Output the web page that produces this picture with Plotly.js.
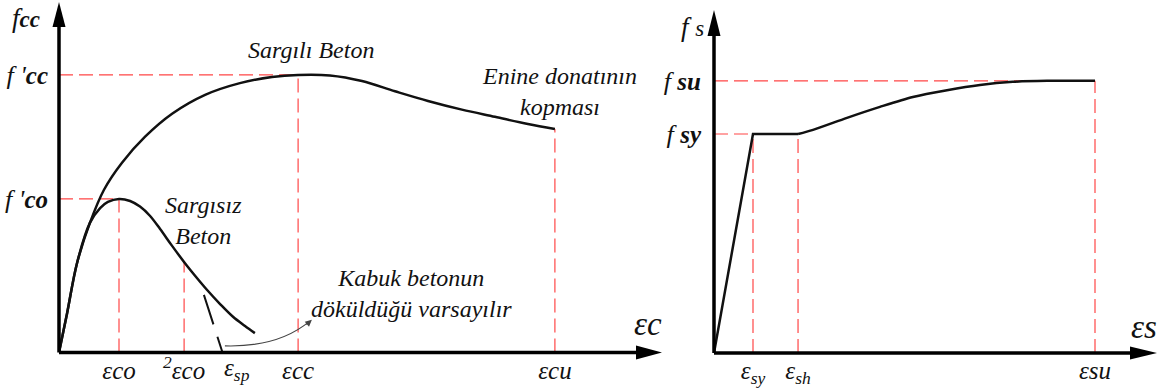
<!DOCTYPE html>
<html>
<head>
<meta charset="utf-8">
<script src="https://cdn.plot.ly/plotly-3.0.1.min.js"></script>
<style>
  body { margin: 0; background: #fff; }
  #grafik { width: 1161px; height: 391px; }
</style>
</head>
<body>
<div id="grafik"></div>
<script>
// beton (sol): birim deformasyon (‰) ve gerilme (MPa)
var sargiliX = [0, 0.27, 0.6, 1.03, 1.5, 2.1, 2.87, 3.77, 4.87, 6.03, 7.1, 7.97, 9.03, 10.1, 11.2, 12.3, 13.43, 14.53, 15.63, 16.53];
var sargiliY = [0, 7.7, 17.5, 25.4, 31.9, 37.2, 42.3, 46.8, 50.5, 52.8, 54.0, 54.4, 54.3, 53.2, 51.2, 49.3, 47.6, 46.2, 44.8, 43.8];
var sargisizX = [0, 0.27, 0.6, 1.03, 1.37, 1.63, 2.0, 2.37, 2.7, 3.03, 3.37, 3.77, 4.2, 4.57, 4.93, 5.37, 5.8, 6.2, 6.53];
var sargisizY = [0, 7.7, 17.5, 25.4, 28.3, 29.5, 30.1, 29.7, 28.6, 26.8, 24.2, 20.9, 17.5, 14.8, 12.3, 9.5, 7.0, 5.2, 3.8];
var kabukX = [4.83, 5.45];
var kabukY = [11.3, 0];

var eco = 2.0, e2co = 4.17, esp = 5.45, ecc = 7.97, ecu = 16.53;
var fco = 30.1, fcc = 54.4, f2co = 17.8, fcu = 43.8;
var betonTickVals = [eco, e2co, ecc, ecu];
var betonTickText = ["εco", "<sup>2</sup>εco", "εcc", "εcu"];
var spEtiket = "ε<sub>sp</sub>";
var betonYVals = [fco, fcc];
var betonYText = ["<span style='font-size:26px'>f '</span><b>co</b>", "<span style='font-size:26px'>f '</span><b>cc</b>"];

// celik (sag)
var celikElastikX = [0, 2.0, 4.31];
var celikElastikY = [0, 420, 420];
var celikPekX = [4.31, 5.08, 6.82, 8.51, 10.2, 11.95, 13.64, 15.33, 17.08, 19.54];
var celikPekY = [420, 428, 451, 472, 491, 504, 514, 520, 522, 522];
var esy = 2.0, esh = 4.31, esu = 19.54;
var fsy = 420, fsu = 522;
var celikTickVals = [esy, esh, esu];
var celikTickText = ["ε<sub>sy</sub>", "ε<sub>sh</sub>", "εsu"];
var celikYVals = [fsy, fsu];
var celikYText = ["<span style='font-size:26px'>f </span><b>sy</b>", "<span style='font-size:26px'>f </span><b>su</b>"];

var W = 1161, H = 391;
function px(x) { return x / W; }
function py(y) { return 1 - y / H; }

var kirmizi = "rgb(255,70,70)";
var kesik = "14px,6px";
var siyah = "#111";

function yazi(boyut) {
  return { family: "Liberation Serif", size: boyut, color: siyah, style: "italic" };
}

function kirmiziCizgi(xs, ys, xa, ya) {
  return {
    type: "scatter", mode: "lines", x: xs, y: ys, xaxis: xa, yaxis: ya,
    line: { color: kirmizi, width: 1.2, dash: kesik }, hoverinfo: "skip"
  };
}

var data = [
  kirmiziCizgi([0, ecc], [fcc, fcc], "x", "y"),
  kirmiziCizgi([0, eco], [fco, fco], "x", "y"),
  kirmiziCizgi([eco, eco], [0, fco], "x", "y"),
  kirmiziCizgi([e2co, e2co], [0, f2co], "x", "y"),
  kirmiziCizgi([ecc, ecc], [0, fcc], "x", "y"),
  kirmiziCizgi([ecu, ecu], [0, fcu], "x", "y"),
  kirmiziCizgi([0, esu], [fsu, fsu], "x2", "y2"),
  kirmiziCizgi([0, esy], [fsy, fsy], "x2", "y2"),
  kirmiziCizgi([esy, esy], [0, fsy], "x2", "y2"),
  kirmiziCizgi([esh, esh], [0, fsy], "x2", "y2"),
  kirmiziCizgi([esu, esu], [0, fsu], "x2", "y2"),
  {
    type: "scatter", mode: "lines", x: sargiliX, y: sargiliY,
    line: { color: siyah, width: 2.5, shape: "spline", smoothing: 1 }, hoverinfo: "skip"
  },
  {
    type: "scatter", mode: "lines", x: sargisizX, y: sargisizY,
    line: { color: siyah, width: 2.5, shape: "spline", smoothing: 1 }, hoverinfo: "skip"
  },
  {
    type: "scatter", mode: "lines", x: kabukX, y: kabukY,
    line: { color: siyah, width: 2, dash: "31px,13px,20px" }, hoverinfo: "skip"
  },
  {
    type: "scatter", mode: "lines", x: celikElastikX, y: celikElastikY, xaxis: "x2", yaxis: "y2",
    line: { color: siyah, width: 2.5 }, hoverinfo: "skip"
  },
  {
    type: "scatter", mode: "lines", x: celikPekX, y: celikPekY, xaxis: "x2", yaxis: "y2",
    line: { color: siyah, width: 2.5, shape: "spline", smoothing: 0.8 }, hoverinfo: "skip"
  }
];

function eksen(ekstra) {
  var e = {
    showgrid: false, zeroline: false, showline: false, ticks: "",
    fixedrange: true, tickmode: "array", tickfont: yazi(25)
  };
  return Object.assign(e, ekstra);
}

function etiket(x, y, metin, boyut) {
  return { xref: "paper", yref: "paper", x: px(x), y: py(y), text: metin, showarrow: false,
    xanchor: "center", yanchor: "middle", font: yazi(boyut) };
}

var layout = {
  width: W, height: H,
  margin: { l: 0, r: 0, t: 0, b: 0 },
  paper_bgcolor: "#fff", plot_bgcolor: "rgba(0,0,0,0)",
  showlegend: false,
  font: yazi(24),
  xaxis: eksen({
    domain: [px(59), px(662)], range: [0, 20.1],
    tickvals: betonTickVals, ticktext: betonTickText, ticklabelstandoff: 0
  }),
  yaxis: eksen({
    domain: [py(352.5), py(2)], range: [0, 68.7],
    tickvals: betonYVals, ticktext: betonYText, ticklabelstandoff: 10
  }),
  xaxis2: eksen({
    domain: [px(714), px(1157)], range: [0, 22.72], anchor: "y2",
    tickvals: celikTickVals, ticktext: celikTickText, ticklabelstandoff: 0
  }),
  yaxis2: eksen({
    domain: [py(353), py(10)], range: [0, 657.8], anchor: "x2",
    tickvals: celikYVals, ticktext: celikYText, ticklabelstandoff: 12
  }),
  shapes: [
    // eksen cizgileri ve ok uclari
    { type: "line", xref: "paper", yref: "paper", x0: px(59), y0: py(352.5), x1: px(59), y1: py(24), line: { color: "#000", width: 3.5 }, layer: "above" },
    { type: "line", xref: "paper", yref: "paper", x0: px(59), y0: py(352.5), x1: px(640), y1: py(352.5), line: { color: "#000", width: 3.5 }, layer: "above" },
    { type: "path", xref: "paper", yref: "paper", path: "M" + px(52.5) + "," + py(27) + " L" + px(59) + "," + py(2) + " L" + px(65.5) + "," + py(27) + " Z", fillcolor: "#000", line: { width: 0 }, layer: "above" },
    { type: "path", xref: "paper", yref: "paper", path: "M" + px(636) + "," + py(345.5) + " L" + px(662) + "," + py(352.5) + " L" + px(636) + "," + py(359.5) + " Z", fillcolor: "#000", line: { width: 0 }, layer: "above" },
    { type: "line", xref: "paper", yref: "paper", x0: px(714), y0: py(353), x1: px(714), y1: py(32), line: { color: "#000", width: 3.5 }, layer: "above" },
    { type: "line", xref: "paper", yref: "paper", x0: px(714), y0: py(353), x1: px(1134), y1: py(353), line: { color: "#000", width: 3.5 }, layer: "above" },
    { type: "path", xref: "paper", yref: "paper", path: "M" + px(707.5) + "," + py(36) + " L" + px(714) + "," + py(10) + " L" + px(720.5) + "," + py(36) + " Z", fillcolor: "#000", line: { width: 0 }, layer: "above" },
    { type: "path", xref: "paper", yref: "paper", path: "M" + px(1130) + "," + py(346.5) + " L" + px(1157) + "," + py(353) + " L" + px(1130) + "," + py(359.5) + " Z", fillcolor: "#000", line: { width: 0 }, layer: "above" },
    // kabuk betonu oku
    { type: "path", xref: "x", yref: "y", path: "M5.53,1.3 Q7.3,1.0 8.35,6.1", line: { color: "#444", width: 1.1 } }
  ],
  annotations: [
    { xref: "x", yref: "y", x: 8.43, y: 6.4, ax: -7, ay: 6, text: "", showarrow: true, arrowhead: 2, arrowsize: 1.2, arrowwidth: 1.1, arrowcolor: "#444" },
    { xref: "x", yref: "paper", x: esp, y: py(369), text: spEtiket, showarrow: false, xanchor: "left", yanchor: "middle", xshift: -1, font: yazi(25) },
    etiket(26, 18, "<span style='font-size:27px'>f</span><b>cc</b>", 23),
    etiket(692, 27, "<span style='font-size:27px'>f </span>s", 23),
    etiket(311, 50, "Sargılı Beton", 24),
    etiket(559, 91, "Enine donatının<br>kopması", 24),
    etiket(203, 220, "Sargısız<br>Beton", 24),
    etiket(411, 293, "Kabuk betonun<br>döküldüğü varsayılır", 24),
    etiket(648, 324, "εc", 33),
    etiket(1144, 327, "εs", 33)
  ]
};

Plotly.newPlot("grafik", data, layout, { staticPlot: true });
</script>
</body>
</html>
